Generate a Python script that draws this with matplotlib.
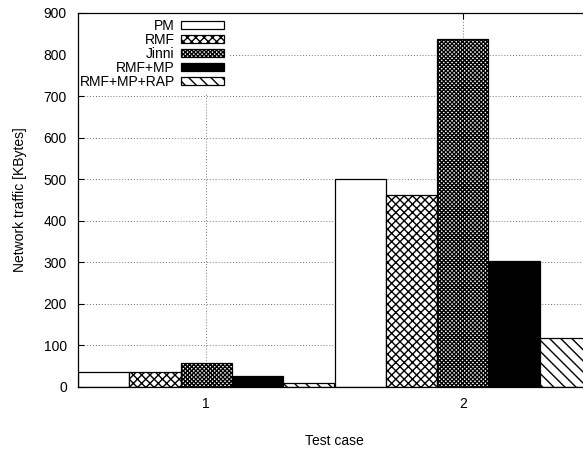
import matplotlib
matplotlib.use("Agg")
import matplotlib.pyplot as plt
import numpy as np

plt.rcParams['font.family'] = ['Liberation Sans', 'DejaVu Sans']
plt.rcParams['hatch.linewidth'] = 1.0

# Network traffic per test case and scheme (KBytes)
test_cases = [1, 2]
schemes = ["PM", "RMF", "Jinni", "RMF+MP", "RMF+MP+RAP"]
pm = [37, 500]
rmf = [37, 463]
jinni = [57, 837]
rmf_mp = [27, 304]
rmf_mp_rap = [10, 117]

series = [pm, rmf, jinni, rmf_mp, rmf_mp_rap]
fills = ["white", "white", "white", "black", "white"]
hatches = [None, "xxxx", "xxxxxxxx", None, "\\\\\\"]

fig = plt.figure(figsize=(5.83, 4.5), dpi=100)
ax = fig.add_axes([78 / 583, 63 / 450, 513 / 583, 374 / 450])

width = 0.2
x = np.array(test_cases, dtype=float)
for i, (name, vals) in enumerate(zip(schemes, series)):
    offset = (i - 2) * width
    ax.bar(x + offset, vals, width, label=name, color=fills[i],
           edgecolor="black", linewidth=0.9, hatch=hatches[i], zorder=2)

ax.set_xlim(0.5, 2.5)
ax.set_ylim(0, 900)
ax.set_xticks(test_cases)
ax.set_yticks(np.arange(0, 901, 100))
ax.set_axisbelow(True)
ax.grid(True, color="#777777", linestyle=(0, (1, 2)), linewidth=0.7)

ax.tick_params(direction="in", length=4.5, width=0.8, labelsize=10,
               top=True, right=True)
ax.tick_params(axis="y", pad=8)
ax.tick_params(axis="x", pad=7)
for s in ax.spines.values():
    s.set_linewidth(0.9)
    s.set_zorder(3)

ax.set_xlabel("Test case", fontsize=10, labelpad=17)
ax.set_ylabel("Network traffic [KBytes]", fontsize=10, labelpad=12)

leg = ax.legend(loc="upper right", bbox_to_anchor=(0.294, 0.996),
                borderaxespad=0, markerfirst=False, fontsize=10,
                handlelength=3.1, handleheight=0.5, handletextpad=0.45,
                labelspacing=0.0, borderpad=0.35, frameon=True,
                fancybox=False, framealpha=1)
leg.get_frame().set_facecolor("white")
leg.get_frame().set_edgecolor("none")
leg.set_zorder(2.4)

fig.savefig("out.png", dpi=100)
